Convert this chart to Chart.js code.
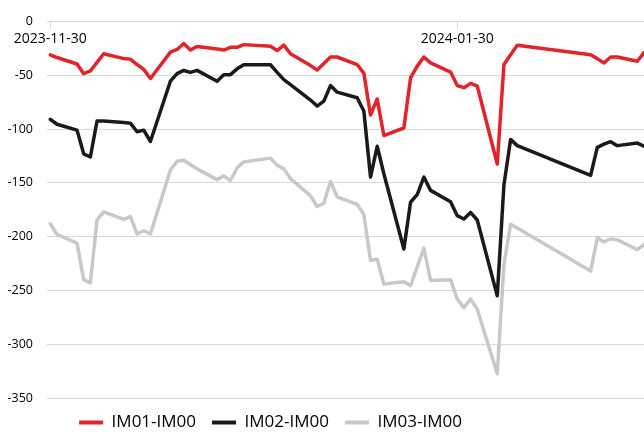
<!DOCTYPE html>
<html>
<head>
<meta charset="utf-8">
<script src="https://cdn.jsdelivr.net/npm/chart.js@4/dist/chart.umd.min.js"></script>
<style>
html,body{margin:0;padding:0;background:#ffffff;}
#c{display:block;}
</style>
</head>
<body>
<canvas id="c" width="644" height="432"></canvas>
<script>
// ---- data ----
const seriesNames = ['IM01-IM00', 'IM02-IM00', 'IM03-IM00'];

const dates = [
  '2023-11-30','2023-12-01','2023-12-04','2023-12-05','2023-12-06','2023-12-07','2023-12-08',
  '2023-12-11','2023-12-12','2023-12-13','2023-12-14','2023-12-15',
  '2023-12-18','2023-12-19','2023-12-20','2023-12-21','2023-12-22',
  '2023-12-25','2023-12-26','2023-12-27','2023-12-28','2023-12-29',
  '2024-01-02','2024-01-03','2024-01-04','2024-01-05',
  '2024-01-08','2024-01-09','2024-01-10','2024-01-11','2024-01-12',
  '2024-01-15','2024-01-16','2024-01-17','2024-01-18','2024-01-19',
  '2024-01-22','2024-01-23','2024-01-24','2024-01-25','2024-01-26',
  '2024-01-29','2024-01-30','2024-01-31','2024-02-01','2024-02-02',
  '2024-02-05','2024-02-06','2024-02-07','2024-02-08',
  '2024-02-19','2024-02-20','2024-02-21','2024-02-22','2024-02-23',
  '2024-02-26','2024-02-27'
];

const im01 = [
  -31, -33.5, -39.5, -48.5, -46, -38, -30,
  -34.5, -35, -40, -44.5, -53,
  -28.5, -26, -20.5, -26.5, -23.3,
  -25.5, -26.5, -24, -24, -21.5,
  -23, -27, -22, -30,
  -41, -45, -39, -33, -33,
  -40, -48, -87, -72, -106,
  -99, -52.5, -41.5, -33, -38.5,
  -47, -59.5, -61.5, -57.5, -60,
  -132.5, -40, -31, -22,
  -31, -34.5, -38.5, -33, -33,
  -37, -29
];

const im02 = [
  -91, -95.5, -101, -123, -126, -92.5, -92.5,
  -94, -94.5, -102.5, -101, -111.5,
  -55.5, -48.5, -45.5, -47.3, -45.4,
  -55.5, -49.4, -49.4, -44, -40.2,
  -40.2, -47.3, -54, -58.6,
  -73, -78.6, -74, -59.6, -65.7,
  -70.9, -83.2, -144.6, -116, -141.5,
  -211.5, -168, -161, -144.6, -157,
  -167.6, -180.5, -183.6, -177.5, -184.5,
  -255, -152, -109.6, -115.4,
  -143, -117, -114, -111.7, -115.4,
  -113, -116
];

const im03 = [
  -188, -198, -206, -240, -243, -184.5, -177,
  -184, -181.5, -197.5, -194.5, -197.5,
  -138, -130, -129, -133, -137,
  -147, -143.5, -148, -136, -130.5,
  -127, -133.5, -137, -146,
  -162, -172, -169, -148.6, -163,
  -170, -179.5, -222, -221, -244,
  -242, -245.5, -228, -210.6, -240.7,
  -240, -258, -266, -258, -267.4,
  -327.5, -226, -188.5, -192,
  -232, -201, -205, -202, -203,
  -212, -207.5
];

const xTickLabels = ['2023-11-30', '2024-01-30'];
const yTickValues = [0, -50, -100, -150, -200, -250, -300, -350];

const seriesColors = ['#e0242a', '#1a1a1a', '#c8c8c8'];

// ---- helpers ----
const baseDay = Date.parse(dates[0] + 'T00:00:00Z');
const dayOf = s => Math.round((Date.parse(s + 'T00:00:00Z') - baseDay) / 86400000);
const toPoints = vals => vals.map((v, i) => ({ x: dayOf(dates[i]), y: v }));

const FONT = '"Open Sans", "Noto Sans", sans-serif';

const allSeries = [im01, im02, im03];

// the reference legend is centred on a narrower band than the canvas (picture was cropped on the right)
const legendBand = {
  id: 'legendBand',
  afterLayout(chart) {
    if (chart.legend) { chart.legend.right = chart.legend.left + 541; }
  }
};

const chart = new Chart(document.getElementById('c'), {
  type: 'line',
  data: {
    datasets: allSeries.map((vals, i) => ({
      label: seriesNames[i],
      data: toPoints(vals),
      borderColor: seriesColors[i],
      backgroundColor: seriesColors[i],
      borderWidth: 3.5,
      pointRadius: 0,
      pointHoverRadius: 0,
      tension: 0,
      fill: false,
      borderJoinStyle: 'round',
      borderCapStyle: 'round'
    }))
  },
  plugins: [legendBand],
  options: {
    responsive: false,
    devicePixelRatio: 1,
    animation: false,
    layout: { padding: { top: 18, right: 0, bottom: 0, left: 0 } },
    scales: {
      x: {
        type: 'linear',
        position: { y: 0 },
        min: -0.5,
        max: 89,
        afterBuildTicks: s => { s.ticks = xTickLabels.map(l => ({ value: dayOf(l) })); },
        ticks: {
          autoSkip: false,
          maxRotation: 0,
          color: '#000000',
          padding: 2,
          font: { family: FONT, size: 14 },
          callback: v => {
            const i = xTickLabels.findIndex(l => dayOf(l) === v);
            return i >= 0 ? xTickLabels[i] : '';
          }
        },
        grid: { drawOnChartArea: false, drawTicks: true, tickLength: 7, color: '#d9d9d9' },
        border: { display: true, color: '#d9d9d9', width: 1 }
      },
      y: {
        type: 'linear',
        position: 'left',
        min: yTickValues[yTickValues.length - 1],
        max: yTickValues[0],
        afterBuildTicks: s => { s.ticks = yTickValues.map(v => ({ value: v })); },
        ticks: {
          color: '#000000',
          padding: 14,
          font: { family: FONT, size: 12.5 }
        },
        grid: { color: '#d9d9d9', drawTicks: false, lineWidth: 1 },
        border: { display: false },
        afterFit: s => { s.width = 47; }
      }
    },
    plugins: {
      tooltip: { enabled: false },
      legend: {
        position: 'bottom',
        maxHeight: 34,
        labels: {
          boxWidth: 24,
          boxHeight: 4,
          padding: 16,
          color: '#000000',
          font: { family: FONT, size: 17 },
          generateLabels: ch => Chart.defaults.plugins.legend.labels.generateLabels(ch)
            .map(l => Object.assign(l, { lineWidth: 0, fillStyle: l.strokeStyle }))
        }
      }
    }
  }
});
</script>
</body>
</html>
